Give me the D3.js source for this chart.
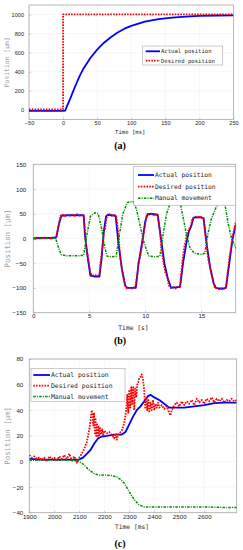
<!DOCTYPE html>
<html><head><meta charset="utf-8">
<script src="https://cdn.jsdelivr.net/npm/d3@7"></script>
<style>
html,body{margin:0;padding:0;background:#fff;}
svg{display:block;}
.tick text{font-family:"Liberation Sans Narrow","Liberation Sans",Arial,sans-serif;fill:#262626;}
.mono{font-family:"DejaVu Sans Mono","Liberation Mono",monospace;}
</style>
</head><body>
<svg id="chart" width="243" height="550"></svg>
<script>
// ---------- Panel (a): step response ----------
const aTime   = [-50, 0, 3, 10, 15, 20, 25, 30, 40, 50, 60, 70, 80, 90, 100, 120, 140, 160, 180, 200, 225, 250];
const aActual = [-10, -10, -8, 110, 200, 285, 365, 435, 545, 632, 705, 762, 812, 852, 882, 925, 952, 968, 979, 986, 990, 992];
const aDesTime = [-50, 0, 0, 250];
const aDesired = [5, 5, 1002, 1002];
const aXTicks = [-50, 0, 50, 100, 150, 200, 250];
const aYTicks = [0, 200, 400, 600, 800, 1000];

// ---------- Panel (b): tracking in seconds ----------
const bTime   = [0,0.5,1,1.5,2.05,2.3,2.5,3,3.5,4,4.5,4.6,4.75,4.9,5.1,5.5,5.9,6.1,6.3,6.5,6.7,7,7.35,7.6,7.9,8.2,8.4,8.8,9.15,9.4,9.7,10,10.2,10.6,11.1,11.4,11.7,12.0,12.3,12.7,13.1,13.4,13.7,13.9,14.1,14.3,14.8,15.2,15.5,15.8,16.1,16.3,16.8,17.2,17.5,17.8,18.1];
const bActual = [0,1,1,1,2,30,46,47,47,47,47,10,-20,-45,-75,-77,-77,-40,15,45,48,47,46,-10,-60,-95,-100,-100,-100,-50,-10,35,49,50,48,0,-50,-80,-100,-99,-98,-45,-5,15,25,42,43,41,-15,-60,-90,-100,-102,-100,-50,0,30];
const bDesTime = [0,0.3,0.6,0.9,1.2,1.5,1.8,2.05,2.2,2.35,2.5,2.7,2.9,3.1,3.3,3.5,3.7,3.9,4.1,4.3,4.5,4.6,4.7,4.8,4.9,5.0,5.1,5.3,5.5,5.7,5.9,6.0,6.1,6.2,6.3,6.4,6.5,6.6,6.8,7.0,7.2,7.4,7.5,7.6,7.7,7.8,7.9,8.0,8.1,8.2,8.3,8.5,8.7,8.9,9.1,9.2,9.3,9.4,9.5,9.6,9.7,9.8,9.9,10.0,10.1,10.3,10.5,10.7,10.9,11.1,11.2,11.3,11.4,11.5,11.6,11.7,11.8,11.9,12.0,12.1,12.3,12.5,12.7,12.9,13.1,13.2,13.3,13.4,13.5,13.6,13.7,13.8,13.9,14.0,14.1,14.2,14.4,14.6,14.8,15.0,15.2,15.3,15.4,15.5,15.6,15.7,15.8,15.9,16.0,16.1,16.2,16.4,16.6,16.8,17.0,17.2,17.3,17.4,17.5,17.6,17.7,17.8,17.9,18.0,18.1];
const bDesired = [0,2,0,1,2,0,1,3,20,38,49,47,45,49,46,48,46,49,47,46,48,20,-10,-25,-40,-55,-70,-75,-73,-76,-74,-50,-30,-10,20,18,35,48,49,46,48,45,30,10,-20,-45,-60,-75,-85,-95,-101,-99,-102,-100,-98,-85,-70,-48,-40,-30,-15,0,15,30,45,48,50,47,49,46,35,15,-10,-30,-45,-60,-70,-75,-82,-95,-100,-98,-101,-98,-97,-70,-50,-30,-15,-5,10,12,20,22,30,40,43,45,42,44,40,20,0,-20,-40,-50,-60,-70,-80,-90,-100,-101,-103,-100,-102,-99,-80,-60,-40,-25,-10,5,15,25,35];
const bManTime = [0,2,2.2,2.5,3,4,4.5,4.8,5.1,5.5,5.8,6.1,6.4,6.6,7,7.4,7.7,8.0,8.4,8.9,9.2,9.6,9.9,10.3,10.8,11.3,11.6,11.9,12.2,12.6,13.1,13.4,13.7,14.0,14.4,15.0,15.3,15.6,15.9,16.3,16.7,17.1,17.4,17.7,18.1];
const bManual  = [0,0,-15,-33,-35,-35,-34,10,45,52,50,20,-20,-36,-37,-36,10,50,73,75,60,20,-10,-35,-37,-36,10,50,70,75,73,40,5,-20,-30,-32,-30,10,40,62,75,70,30,0,-20];
const bXTicks = [0, 5, 10, 15];
const bYTicks = [-150, -100, -50, 0, 50, 100, 150];

// ---------- Panel (c): zoomed tracking in ms ----------
const cTime   = [1900,1950,2000,2050,2100,2115,2130,2145,2160,2175,2190,2210,2240,2270,2285,2300,2315,2330,2345,2360,2375,2385,2400,2420,2440,2460,2480,2520,2560,2600,2640,2680,2730];
const cActual = [2,1.5,1.5,1.5,1.5,3,6,9,14,18,19.5,20,21,21,23,29,35,40,43,47,51,52,50,48,45,42,42,42,43,44,45.5,46,46];
const cDesTime = [1900,1910,1920,1930,1940,1950,1960,1970,1980,1990,2000,2010,2020,2030,2040,2050,2060,2070,2080,2090,2100,2110,2120,2130,2140,2145,2150,2153,2156,2159,2162,2165,2168,2171,2174,2177,2180,2184,2188,2192,2196,2200,2210,2220,2230,2240,2245,2250,2255,2260,2270,2280,2288,2292,2296,2300,2304,2308,2312,2316,2320,2324,2328,2332,2336,2340,2345,2350,2355,2360,2364,2368,2372,2376,2380,2385,2390,2395,2400,2405,2410,2415,2420,2430,2440,2450,2460,2465,2470,2480,2490,2500,2510,2520,2530,2540,2550,2560,2570,2580,2590,2600,2610,2620,2630,2640,2650,2660,2670,2680,2690,2700,2710,2720,2730];
const cDesired = [5,3,4,2,3,1,3,0,4,2,3,1,4,2,5,2,6,1,4,-1,3,6,10,15,25,32,40,36,28,38,22,34,20,30,19,28,20,26,21,25,21,24,22,23,21,18,22,17,21,22,24,30,40,52,38,56,42,58,45,58,40,57,50,60,62,65,66,68,64,55,42,50,40,48,38,46,40,48,40,45,42,46,42,44,41,43,38,36,40,44,46,43,47,44,47,45,48,44,49,46,48,45,49,47,50,46,49,47,49,46,48,47,49,47,48];
const cManTime = [1900,1950,2000,2050,2080,2100,2115,2130,2145,2160,2175,2200,2230,2250,2265,2280,2295,2310,2325,2340,2360,2400,2500,2600,2700,2730];
const cManual  = [1,1,1,1,0.5,0,-2,-5,-7.5,-9.5,-10.5,-10.5,-11,-12,-14,-17,-22,-27,-31,-34,-35.5,-35.5,-35.5,-35.5,-36,-36];
const cXTicks = [1900, 2000, 2100, 2200, 2300, 2400, 2500, 2600];
const cYTicks = [-40, -20, 0, 20, 40, 60, 80];

const seriesNames = ["Actual position", "Desired position", "Manual movement"];
const colors = {actual: "#0000ff", desired: "#ff0000", manual: "#008a00"};

const svg = d3.select("#chart");
const fmt = d3.format("d");

function zip(xs, ys) { return xs.map((x, i) => [x, ys[i]]); }

function panel(cfg) {
  const x = d3.scaleLinear().domain(cfg.xDomain).range([cfg.left, cfg.right]);
  const y = d3.scaleLinear().domain(cfg.yDomain).range([cfg.bottom, cfg.top]);
  const g = svg.append("g");
  const clipId = "clip" + cfg.id;
  g.append("clipPath").attr("id", clipId).append("rect")
    .attr("x", cfg.left).attr("y", cfg.top)
    .attr("width", cfg.right - cfg.left).attr("height", cfg.bottom - cfg.top);

  // grid
  g.append("g").selectAll("line").data(cfg.xTicks).join("line")
    .attr("x1", d => x(d)).attr("x2", d => x(d)).attr("y1", cfg.top).attr("y2", cfg.bottom)
    .attr("stroke", "#dcdcdc").attr("stroke-width", 0.5).attr("stroke-dasharray", "1,1");
  g.append("g").selectAll("line").data(cfg.yTicks).join("line")
    .attr("y1", d => y(d)).attr("y2", d => y(d)).attr("x1", cfg.left).attr("x2", cfg.right)
    .attr("stroke", "#dcdcdc").attr("stroke-width", 0.5).attr("stroke-dasharray", "1,1");

  // axes
  const xa = g.append("g").attr("transform", `translate(0,${cfg.bottom})`)
    .call(d3.axisBottom(x).tickValues(cfg.xTicks).tickFormat(fmt).tickSize(-2).tickPadding(2).tickSizeOuter(0));
  const ya = g.append("g").attr("transform", `translate(${cfg.left},0)`)
    .call(d3.axisLeft(y).tickValues(cfg.yTicks).tickFormat(fmt).tickSize(-2).tickPadding(cfg.yPad).tickSizeOuter(0));
  [xa, ya].forEach(a => {
    a.select(".domain").remove();
    a.selectAll(".tick line").attr("stroke", "#9a9a9a").attr("stroke-width", 0.5);
    a.selectAll(".tick text").attr("font-size", cfg.tickFont);
  });
  xa.selectAll(".tick text").attr("dy", cfg.xDy || "0.6em");

  // box
  g.append("rect").attr("x", cfg.left).attr("y", cfg.top)
    .attr("width", cfg.right - cfg.left).attr("height", cfg.bottom - cfg.top)
    .attr("fill", "none").attr("stroke", "#a8a8a8").attr("stroke-width", 0.8);

  const line = d3.line().x(d => x(d[0])).y(d => y(d[1]));
  const plot = g.append("g").attr("clip-path", `url(#${clipId})`);
  cfg.series.forEach(s => {
    plot.append("path").datum(s.data).attr("d", line).attr("fill", "none")
      .attr("stroke", s.color).attr("stroke-width", s.width)
      .attr("stroke-dasharray", s.dash || null).attr("stroke-linejoin", "round");
  });

  // labels
  g.append("text").attr("class", "mono").attr("x", (cfg.left + cfg.right) / 2 - 1).attr("y", cfg.xLabelY)
    .attr("text-anchor", "middle").attr("font-size", cfg.labelFont).attr("fill", "#262626").text(cfg.xLabel);
  g.append("text").attr("class", "mono")
    .attr("transform", `translate(${cfg.yLabelX},${(cfg.top + cfg.bottom) / 2}) rotate(-90)`)
    .attr("text-anchor", "middle").attr("font-size", cfg.yLabelFont).attr("fill", "#a0a0a0").text("Position [μm]");
  g.append("text").attr("x", 120).attr("y", cfg.captionY).attr("text-anchor", "middle")
    .attr("font-family", "'Liberation Serif','Times New Roman',serif").attr("font-weight", "bold")
    .attr("font-size", 10).attr("fill", "#000").text(cfg.caption);

  // legend
  const L = cfg.legend;
  g.append("rect").attr("x", L.x).attr("y", L.y).attr("width", L.w).attr("height", L.h)
    .attr("fill", "#fff").attr("stroke", "#a8a8a8").attr("stroke-width", 0.6);
  cfg.series.forEach((s, i) => {
    const yy = L.y + L.first + i * L.step;
    g.append("line").attr("x1", L.x + L.pad).attr("x2", L.x + L.pad + L.len).attr("y1", yy).attr("y2", yy)
      .attr("stroke", s.color).attr("stroke-width", s.width).attr("stroke-dasharray", s.dash || null);
    g.append("text").attr("class", "mono").attr("x", L.x + L.pad + L.len + 1).attr("y", yy)
      .attr("dy", "0.35em").attr("font-size", L.font).attr("fill", "#262626").text(seriesNames[i]);
  });
}

panel({
  id: "a", left: 29, right: 233.5, top: 5, bottom: 119.5,
  xDomain: [-50, 250], yDomain: [-100, 1100], xTicks: aXTicks, yTicks: aYTicks,
  tickFont: 5.6, yPad: 5, labelFont: 5.6, yLabelFont: 6.4, yLabelX: 9,
  xLabel: "Time [ms]", xLabelY: 134, caption: "(a)", captionY: 149,
  series: [
    {data: zip(aTime, aActual), color: colors.actual, width: 1.8},
    {data: zip(aDesTime, aDesired), color: colors.desired, width: 1.8, dash: "1.6,1.2"}
  ],
  legend: {x: 142.7, y: 46, w: 80, h: 19, first: 5.3, step: 9.4, pad: 3, len: 14.3, font: 5.6}
});

panel({
  id: "b", left: 33.3, right: 235.7, top: 164.3, bottom: 312.7,
  xDomain: [0, 18.07], yDomain: [-150, 150], xTicks: bXTicks, yTicks: bYTicks,
  tickFont: 6.2, yPad: 7, labelFont: 6.3, yLabelFont: 7.4, yLabelX: 9.5,
  xLabel: "Time [s]", xLabelY: 330, caption: "(b)", captionY: 344,
  series: [
    {data: zip(bTime, bActual), color: colors.actual, width: 1.8},
    {data: zip(bDesTime, bDesired), color: colors.desired, width: 1.8, dash: "1.6,1.2"},
    {data: zip(bManTime, bManual), color: colors.manual, width: 1.5, dash: "2.5,1.2,1,1.2"}
  ],
  legend: {x: 133.7, y: 166.7, w: 102, h: 38.5, first: 8.3, step: 11.6, pad: 4.3, len: 16, font: 6.3}
});

panel({
  id: "c", left: 29.3, right: 236.7, top: 359, bottom: 512.7,
  xDomain: [1900, 2730], yDomain: [-40, 80], xTicks: cXTicks, yTicks: cYTicks,
  tickFont: 6.2, yPad: 6, labelFont: 6.3, yLabelFont: 7.4, yLabelX: 9.5, xDy: "0.75em",
  xLabel: "Time [ms]", xLabelY: 529, caption: "(c)", captionY: 547,
  series: [
    {data: zip(cTime, cActual), color: colors.actual, width: 1.8},
    {data: zip(cDesTime, cDesired), color: colors.desired, width: 1.8, dash: "1.6,1.2"},
    {data: zip(cManTime, cManual), color: colors.manual, width: 1.5, dash: "2.5,1.2,1,1.2"}
  ],
  legend: {x: 31, y: 368.3, w: 94, h: 33.4, first: 6.7, step: 10.7, pad: 2.3, len: 16.7, font: 6.4}
});
</script>
</body></html>
